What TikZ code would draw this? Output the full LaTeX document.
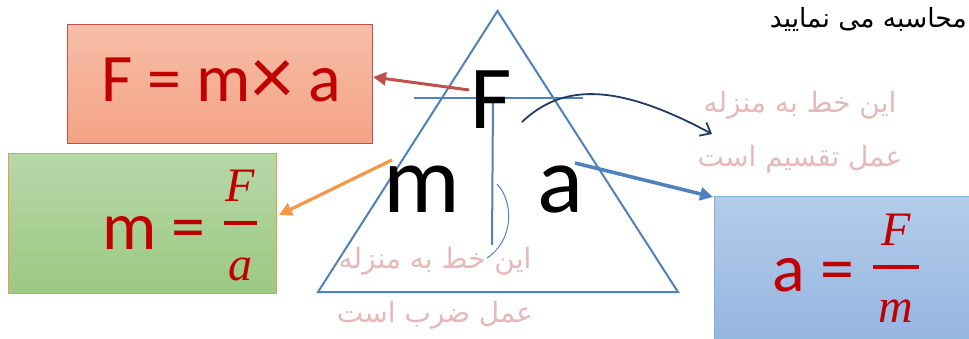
\documentclass[tikz,border=0pt]{standalone}
\usepackage{fontspec}
\setmainfont{Carlito}
\newfontfamily\farsi[Script=Arabic]{DejaVu Sans}
\newfontfamily\fracfont{Liberation Serif}
\TeXXeTstate=1
\usetikzlibrary{arrows.meta}

\definecolor{formred}{HTML}{C00000}
\definecolor{redtop}{HTML}{F6BDA7}
\definecolor{redbot}{HTML}{F4A384}
\definecolor{redline}{HTML}{C0504D}
\definecolor{greentop}{HTML}{B7D7A9}
\definecolor{greenbot}{HTML}{9CC982}
\definecolor{greenline}{HTML}{F79646}
\definecolor{bluetop}{HTML}{B3CCE9}
\definecolor{bluebot}{HTML}{94B5E0}
\definecolor{blueline}{HTML}{7FB2D6}
\definecolor{triblue}{HTML}{4F81BD}
\definecolor{navy}{HTML}{1F3D63}
\definecolor{notepink}{HTML}{E6B9B8}

\begin{document}
\begin{tikzpicture}[x=1pt, y=-1pt]

\def\formsize{\fontsize{68}{80}\selectfont}
\def\fracsize{\fracfont\itshape\fontsize{48}{56}\selectfont}
\def\notesize{\fontsize{28}{34}\selectfont}
\def\lineskip{54}

\useasboundingbox (0,0) rectangle (969,339);

% ---------- style ----------
\tikzset{
  formbox/.style={draw, line width=1pt, shading=axis, inner sep=0pt},
  formtext/.style={text=formred, inner sep=0pt, anchor=base},
  fracbar/.style={draw=formred, line width=3.5pt},
  bigletter/.style={text=black, inner sep=0pt, anchor=base},
  triline/.style={draw=triblue, line width=2pt},
  note/.style={text=notepink, inner sep=0pt, anchor=base, font=\farsi\notesize},
  fatarrow/.style={line width=#1, -{Triangle[length=13pt, width=13pt]}}
}

% ---------- ramki z wzorami ----------
\node[formbox, draw=redline, top color=redtop, bottom color=redbot,
      minimum width=305pt, minimum height=119pt] (boxF) at (219.5, 84.5) {};
\node[formbox, draw=greenline, top color=greentop, bottom color=greenbot,
      minimum width=268pt, minimum height=139pt] (boxM) at (142, 223.5) {};
\node[formbox, draw=blueline, top color=bluetop, bottom color=bluebot,
      minimum width=261pt, minimum height=148pt] (boxA) at (844.5, 271) {};

\node[formtext, font=\formsize] (formF) at (221, 102)
  {F = m{\raisebox{-3pt}{\fontsize{84}{84}\selectfont ×}} a};

% m = F/a
\node[formtext, font=\formsize, anchor=base west] (formM) at (102, 249) {m =};
\node[formtext, font=\fracsize] (numM) at (240.5, 202) {F};
\node[formtext, font=\fracsize] (denM) at (240.5, 280) {a};
\coordinate (barMl) at (224, 223);
\coordinate (barMr) at (257, 223);
\draw[fracbar] (barMl) -- (barMr);

% a = F/m
\node[formtext, font=\formsize, anchor=base west] (formA) at (772, 291) {a =};
\node[formtext, font=\fracsize] (numA) at (896, 245) {F};
\node[formtext, font=\fracsize] (denA) at (896, 322) {m};
\coordinate (barAl) at (873, 267);
\coordinate (barAr) at (919, 267);
\draw[fracbar] (barAl) -- (barAr);

% ---------- trójkąt ----------
\coordinate (top)   at (497.5, 11);
\coordinate (left)  at (318, 292);
\coordinate (right) at (678, 292);
\draw[triline, line join=miter] (top) -- (left) -- (right) -- cycle;

\coordinate (hl) at (414, 98);
\coordinate (hr) at (583, 98);
\coordinate (vt) at (493, 98);
\coordinate (vb) at (492, 245);
\draw[triline] (hl) -- (hr);
\draw[triline] (vt) -- (vb);

\node[bigletter, font=\fontsize{90}{90}\selectfont] (letF) at (491, 129) {F};
\node[bigletter, font=\fontsize{96}{96}\selectfont] (letM) at (422, 213) {m};
\node[bigletter, font=\fontsize{96}{96}\selectfont] (letA) at (560, 213) {a};

% ---------- strzałki ----------
\coordinate (fromF) at (469, 90);
\coordinate (toF)   at (373, 77);
\coordinate (fromM) at (392, 160);
\coordinate (toM)   at (279, 215);
\coordinate (fromA) at (575, 163);
\coordinate (toA)   at (713, 197);
\coordinate (curveA) at (522, 122);
\coordinate (curveB) at (712, 134);
\coordinate (arcA) at (497, 184);
\coordinate (arcB) at (487, 258);

\draw[fatarrow=3pt, redline] (fromF) -- (toF);
\draw[fatarrow=3.2pt, greenline] (fromM) -- (toM);
\draw[fatarrow=3.6pt, triblue] (fromA) -- (toA);
\draw[navy, line width=1.8pt, -{Straight Barb[length=9pt, width=15pt]}]
  (curveA) .. controls (560, 86) and (612, 80) .. (curveB);
\draw[triblue, line width=1pt] (arcA) .. controls (514, 202) and (514, 240) .. (arcB);

% ---------- napisy ----------
\node[text=black, inner sep=0pt, anchor=base east, font=\farsi\fontsize{26.5}{32}\selectfont]
  (title) at (967, 28) {\beginR محاسبه می نمایید\endR};

\node[note] (noteDivA) at (800, 113) {\beginR این خط به منزله\endR};
\node[note] (noteDivB) at (800, 113+\lineskip) {\beginR عمل تقسیم است\endR};

\node[note] (noteMulA) at (435, 268) {\beginR این خط به منزله\endR};
\node[note] (noteMulB) at (435, 268+\lineskip) {\beginR عمل ضرب است\endR};

\end{tikzpicture}
\end{document}
